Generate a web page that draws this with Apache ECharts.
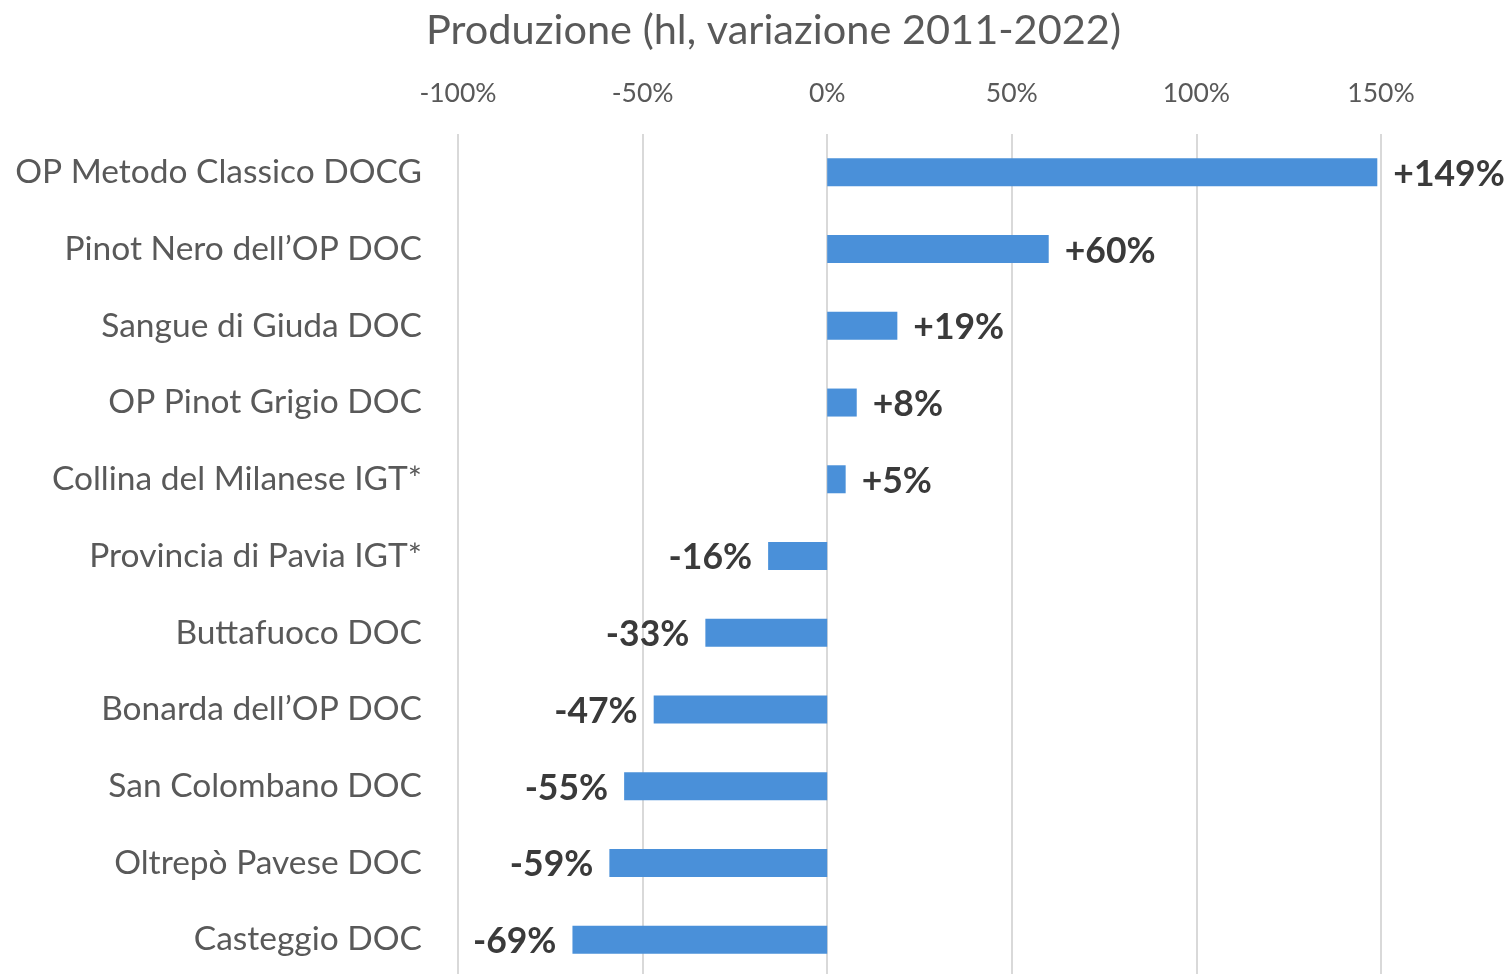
<!DOCTYPE html>
<html><head><meta charset="utf-8">
<script src="https://cdn.jsdelivr.net/npm/echarts@6/dist/echarts.min.js"></script>
<style>html,body{margin:0;padding:0;background:#fff;overflow:hidden}#c{width:1508px;height:978px}</style>
</head><body><div id="c"></div>
<script>
const categories = ["OP Metodo Classico DOCG","Pinot Nero dell\u2019OP DOC","Sangue di Giuda DOC","OP Pinot Grigio DOC","Collina del Milanese IGT*","Provincia di Pavia IGT*","Buttafuoco DOC","Bonarda dell\u2019OP DOC","San Colombano DOC","Oltrep\u00f2 Pavese DOC","Casteggio DOC"];
const values = [149, 60, 19, 8, 5, -16, -33, -47, -55, -59, -69];
const tickValues = [-100, -50, 0, 50, 100, 150];
const title = "Produzione (hl, variazione 2011-2022)";
const FONT = "Lato";
const chart = echarts.init(document.getElementById('c'));
chart.setOption({
  animation: false,
  title: { text: title, left: 421, top: 5, textStyle: { fontFamily: FONT, fontSize: 41.5, fontWeight: 'normal', color: '#595959' } },
  grid: { left: 458, width: 923, top: 134, height: 844, containLabel: false },
  xAxis: {
    type: 'value', position: 'top', min: -100, max: 150, interval: 50,
    axisLine: { show: false }, axisTick: { show: false },
    splitLine: { lineStyle: { color: '#d9d9d9', width: 2 } },
    axisLabel: { margin: 27, fontFamily: FONT, fontSize: 26.5, color: '#595959', formatter: v => v + '%' }
  },
  yAxis: {
    type: 'category', inverse: true, data: categories,
    axisLine: { show: false }, axisTick: { show: false },
    axisLabel: { margin: 36, fontFamily: FONT, fontSize: 33.5, color: '#595959' }
  },
  series: [{
    type: 'bar', barWidth: 28, itemStyle: { color: '#4a90d9' },
    data: values.map(v => ({ value: v, label: { position: v >= 0 ? 'right' : 'left' } })),
    label: { show: true, distance: 16, fontFamily: FONT, fontSize: 35.5, fontWeight: 'bold', color: '#3a3a3a', offset: [0, 2],
      formatter: p => (p.value > 0 ? '+' : '') + p.value + '%' }
  }]
});
</script></body></html>
